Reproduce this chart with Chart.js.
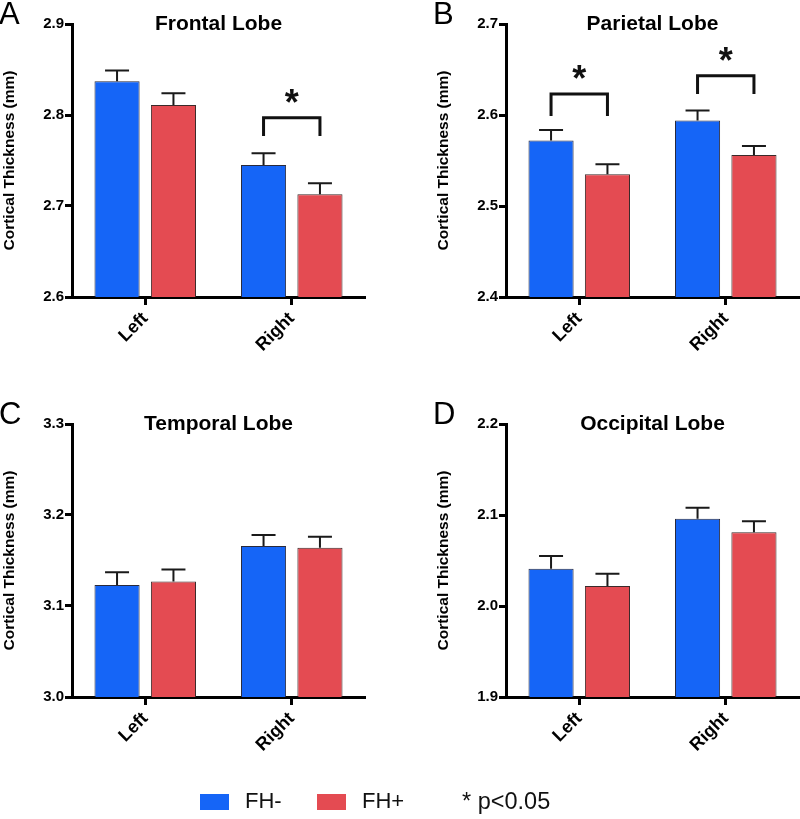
<!DOCTYPE html>
<html>
<head>
<meta charset="utf-8">
<script src="https://cdn.jsdelivr.net/npm/chart.js@4.4.1/dist/chart.umd.min.js"></script>
<style>
  body { margin: 0; background: #fff; font-family: "Liberation Sans", Arial, sans-serif; }
  #page { position: relative; width: 800px; height: 819px; overflow: hidden; }
  canvas { position: absolute; }
  .key { position: absolute; top: 794px; width: 29px; height: 16px; }
  .keyText { position: absolute; top: 790px; font-size: 22px; line-height: 22px; color: #111; white-space: nowrap; }
</style>
</head>
<body>
<div id="page">
  <canvas id="frontal" width="366" height="395" style="left:0;top:0"></canvas>
  <canvas id="parietal" width="366" height="395" style="left:434px;top:0"></canvas>
  <canvas id="temporal" width="366" height="395" style="left:0;top:400px"></canvas>
  <canvas id="occipital" width="366" height="395" style="left:434px;top:400px"></canvas>

  <div class="key" style="left:200px;background:#1565f7"></div>
  <div class="keyText" style="left:245px">FH-</div>
  <div class="key" style="left:317px;background:#e44b52"></div>
  <div class="keyText" style="left:362px">FH+</div>
  <div class="keyText" style="left:462px;font-size:23.5px">* p&lt;0.05</div>
</div>

<script>
const categories = ['Left', 'Right'];
const seriesNames = ['FH-', 'FH+'];

// Frontal lobe (mm)
const frontalNeg = [2.837, 2.745];
const frontalPos = [2.811, 2.713];
const frontalNegErr = [0.012, 0.013];
const frontalPosErr = [0.013, 0.012];
const frontalTicks = [2.6, 2.9];

// Parietal lobe
const parietalNeg = [2.572, 2.594];
const parietalPos = [2.535, 2.556];
const parietalNegErr = [0.0115, 0.011];
const parietalPosErr = [0.011, 0.010];
const parietalTicks = [2.4, 2.7];

// Temporal lobe
const temporalNeg = [3.123, 3.166];
const temporalPos = [3.127, 3.164];
const temporalNegErr = [0.014, 0.012];
const temporalPosErr = [0.013, 0.012];
const temporalTicks = [3.0, 3.3];

// Occipital lobe
const occipitalNeg = [2.041, 2.096];
const occipitalPos = [2.022, 2.081];
const occipitalNegErr = [0.014, 0.012];
const occipitalPosErr = [0.0135, 0.012];
const occipitalTicks = [1.9, 2.2];

// significance brackets: [category index, bracket level, leg bottom]
const frontalSig = [[1, 2.797, 2.777]];
const parietalSig = [[0, 2.623, 2.599], [1, 2.643, 2.623]];

const BLUE = '#1565f7';
const RED = '#e44b52';
const FONT = '"Liberation Sans", Arial, sans-serif';

/* =============================
   DRAW HELPERS (error bars, brackets, titles)
============================= */
const panelDecor = {
    id: 'panelDecor',
    afterDatasetsDraw(chart, args, opts) {
        const ctx = chart.ctx;
        const y = chart.scales.y;
        ctx.save();

        // error bars (upper only)
        ctx.strokeStyle = '#1a1a1a';
        ctx.lineWidth = 2;
        chart.data.datasets.forEach((ds, di) => {
            chart.getDatasetMeta(di).data.forEach((bar, i) => {
                const top = y.getPixelForValue(ds.data[i] + ds.errors[i]);
                ctx.beginPath();
                ctx.moveTo(bar.x, bar.y);
                ctx.lineTo(bar.x, top);
                ctx.moveTo(bar.x - 12, top);
                ctx.lineTo(bar.x + 12, top);
                ctx.stroke();
            });
        });

        // brackets with star
        ctx.strokeStyle = '#111';
        ctx.lineWidth = 3;
        ctx.fillStyle = '#111';
        ctx.font = `bold 36px ${FONT}`;
        ctx.textAlign = 'center';
        ctx.textBaseline = 'alphabetic';
        (opts.brackets || []).forEach(([c, level, leg]) => {
            const x1 = chart.getDatasetMeta(0).data[c].x;
            const x2 = chart.getDatasetMeta(1).data[c].x;
            const yl = y.getPixelForValue(level);
            const yb = y.getPixelForValue(leg);
            ctx.beginPath();
            ctx.moveTo(x1, yb);
            ctx.lineTo(x1, yl);
            ctx.lineTo(x2, yl);
            ctx.lineTo(x2, yb);
            ctx.stroke();
            ctx.fillText('*', (x1 + x2) / 2, yl - 3);
        });
        ctx.restore();
    },
    afterDraw(chart, args, opts) {
        const ctx = chart.ctx;
        const area = chart.chartArea;
        ctx.save();
        ctx.fillStyle = '#000';
        ctx.textBaseline = 'alphabetic';
        ctx.textAlign = 'left';
        ctx.font = `31px ${FONT}`;
        ctx.fillText(opts.letter, -1, 24);
        ctx.textAlign = 'center';
        ctx.font = `bold 21px ${FONT}`;
        ctx.fillText(opts.title, (area.left + area.right) / 2, 29.5);
        ctx.restore();
    }
};

function drawPanel(id, letter, title, neg, pos, negErr, posErr, range, brackets) {
    const canvas = document.getElementById(id);
    const H = canvas.height;

    return new Chart(canvas, {
        type: 'bar',
        data: {
            labels: categories,
            datasets: [
                { label: seriesNames[0], data: neg, errors: negErr, backgroundColor: BLUE, borderColor: '#2a2a3a', borderWidth: 1 },
                { label: seriesNames[1], data: pos, errors: posErr, backgroundColor: RED, borderColor: '#3a2a2a', borderWidth: 1 }
            ]
        },
        options: {
            responsive: false,
            animation: false,
            categoryPercentage: 0.77,
            barPercentage: 0.8,
            layout: { padding: { top: 24, right: 1, left: 0, bottom: 0 } },
            plugins: {
                legend: { display: false },
                tooltip: { enabled: false },
                panelDecor: { letter, title, brackets }
            },
            scales: {
                x: {
                    offset: true,
                    afterFit: s => { s.height = H - 297; },
                    grid: {
                        offset: false,
                        drawOnChartArea: false,
                        drawTicks: true,
                        tickLength: 8,
                        tickWidth: 3,
                        tickColor: '#000'
                    },
                    border: { display: true, color: '#000', width: 3 },
                    ticks: {
                        autoSkip: false,
                        minRotation: 45,
                        maxRotation: 45,
                        padding: 3,
                        color: '#000',
                        font: { family: FONT, size: 18, weight: 'bold' }
                    }
                },
                y: {
                    min: range[0],
                    max: range[1],
                    afterFit: s => { s.width = 72; },
                    grid: {
                        drawOnChartArea: false,
                        drawTicks: true,
                        tickLength: 7,
                        tickWidth: 3,
                        tickColor: '#000'
                    },
                    border: { display: true, color: '#000', width: 3 },
                    ticks: {
                        stepSize: 0.1,
                        padding: 1,
                        color: '#000',
                        font: { family: FONT, size: 15, weight: 'bold' },
                        callback: v => Number(v).toFixed(1)
                    },
                    title: {
                        display: true,
                        text: 'Cortical Thickness (mm)',
                        color: '#000',
                        padding: { top: 0, bottom: 0 },
                        font: { family: FONT, size: 15.5, weight: 'bold' }
                    }
                }
            }
        },
        plugins: [panelDecor]
    });
}

drawPanel('frontal', 'A', 'Frontal Lobe', frontalNeg, frontalPos, frontalNegErr, frontalPosErr, frontalTicks, frontalSig);
drawPanel('parietal', 'B', 'Parietal Lobe', parietalNeg, parietalPos, parietalNegErr, parietalPosErr, parietalTicks, parietalSig);
drawPanel('temporal', 'C', 'Temporal Lobe', temporalNeg, temporalPos, temporalNegErr, temporalPosErr, temporalTicks, []);
drawPanel('occipital', 'D', 'Occipital Lobe', occipitalNeg, occipitalPos, occipitalNegErr, occipitalPosErr, occipitalTicks, []);
</script>
</body>
</html>
